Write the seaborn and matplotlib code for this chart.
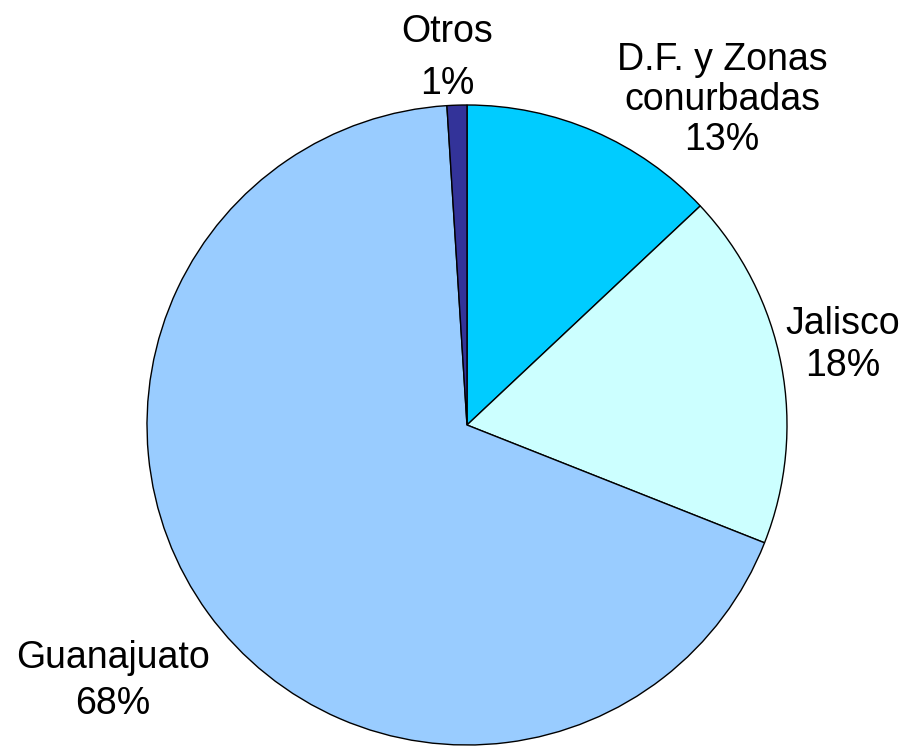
import matplotlib
matplotlib.use("Agg")
import matplotlib.pyplot as plt
import seaborn as sns

sns.set_theme(style="white")
plt.rcParams['font.family'] = ['Liberation Sans', 'DejaVu Sans']

categories = ["D.F. y Zonas\nconurbadas", "Jalisco", "Guanajuato", "Otros"]
values = [13, 18, 68, 1]
colors = ["#00CCFF", "#CCFFFF", "#99CCFF", "#333399"]
label_pos = [(722, 100), (843, 345), (113, 681), (447, 58)]
label_spacing = [1.15, 1.2, 1.35, 1.6]

W, H = 910, 746
fig = plt.figure(figsize=(W / 100, H / 100), dpi=100)
ax = fig.add_axes([0, 0, 1, 1])

ax.pie(values, colors=colors, startangle=90, counterclock=False,
       center=(467, H - 425), radius=320,
       wedgeprops=dict(edgecolor="black", linewidth=1.0))

ax.set_xlim(0, W)
ax.set_ylim(0, H)
ax.set_aspect("equal")
ax.axis("off")

for cat, v, (px, py), ls in zip(categories, values, label_pos, label_spacing):
    ax.text(px, H - py, f"{cat}\n{v}%", ha="center", va="center",
            fontsize=27, linespacing=ls, color="black")

fig.savefig("out.png", dpi=100, facecolor="white")
